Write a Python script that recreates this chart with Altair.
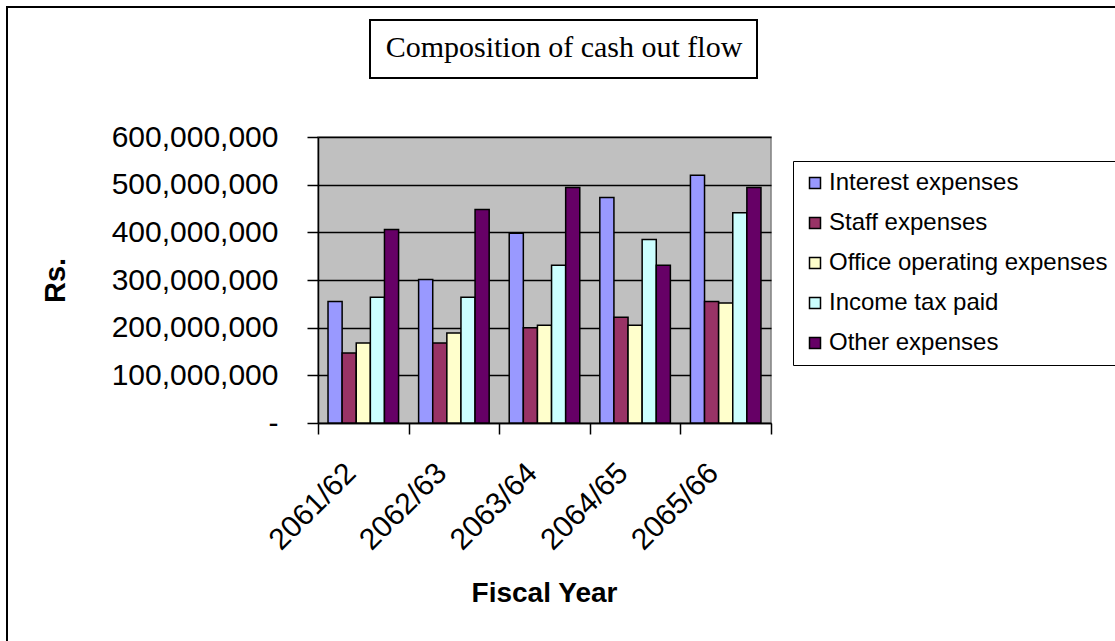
import altair as alt
import pandas as pd

years = ["2061/62", "2062/63", "2063/64", "2064/65", "2065/66"]
series = ["Interest expenses", "Staff expenses", "Office operating expenses",
          "Income tax paid", "Other expenses"]
interest = [255e6, 301e6, 398e6, 473e6, 520e6]
staff = [147e6, 168e6, 200e6, 222e6, 255e6]
office = [168e6, 189e6, 205e6, 205e6, 252e6]
income_tax = [264e6, 264e6, 331e6, 385e6, 441e6]
other = [406e6, 448e6, 494e6, 331e6, 494e6]
colors = ["#9999FF", "#993366", "#FFFFCC", "#CCFFFF", "#660066"]
y_ticks = [0, 100e6, 200e6, 300e6, 400e6, 500e6, 600e6]

rows = []
for s, vals in zip(series, [interest, staff, office, income_tax, other]):
    for y, v in zip(years, vals):
        rows.append({"Fiscal Year": y, "Series": s, "Value": v})
df = pd.DataFrame(rows)

FONT = "Liberation Sans"

bars = alt.Chart(df).mark_bar(stroke="black", strokeWidth=1.5).encode(
    x=alt.X("Fiscal Year:N", sort=years,
            scale=alt.Scale(paddingInner=0, paddingOuter=0),
            axis=alt.Axis(title="Fiscal Year", titleFont=FONT, titleFontSize=28,
                          titleFontWeight="bold", titleColor="black",
                          titleX=226, titleY=170, titleAlign="center", titleBaseline="middle",
                          labelFont=FONT, labelFontSize=30, labelColor="black",
                          labelAngle=315, labelAlign="right", labelBaseline="middle",
                          labelPadding=45, labelOffset=-12, ticks=False,
                          domainColor="black", domainWidth=1.5, grid=False)),
    xOffset=alt.XOffset("Series:N", sort=series,
                        scale=alt.Scale(paddingInner=0, paddingOuter=0.71)),
    y=alt.Y("Value:Q", scale=alt.Scale(domain=[0, 600e6], nice=False),
            axis=alt.Axis(title="Rs.", titleFont=FONT, titleFontSize=29,
                          titleFontWeight="bold", titleColor="black",
                          titleX=-263, titleY=143, titleAngle=270,
                          titleAlign="center", titleBaseline="middle",
                          values=y_ticks, labelFont=FONT, labelFontSize=30,
                          labelColor="black", tickSize=11, tickColor="black",
                          tickWidth=1.5, labelPadding=29, domainColor="black",
                          domainWidth=1.5, grid=True, gridColor="black", gridWidth=1.5,
                          labelExpr="datum.value == 0 ? '-\u00a0\u00a0\u00a0\u00a0' : format(datum.value, ',')")),
    color=alt.Color("Series:N", sort=series,
                    scale=alt.Scale(domain=series, range=colors),
                    legend=alt.Legend(title=None, orient="none", legendX=475, legendY=24,
                                      direction="vertical",
                                      labelFont=FONT, labelFontSize=24, labelColor="black",
                                      symbolType="square", symbolSize=121,
                                      symbolStrokeColor="black", symbolStrokeWidth=1.5,
                                      labelOffset=2, rowPadding=16, padding=10,
                                      strokeColor="black",
                                      fillColor="white", labelLimit=400,
                                      labelExpr="datum.label + '\u00a0\u00a0\u00a0'")),
)

bounds = pd.DataFrame({"b": list(range(len(years) + 1))})
ticks = alt.Chart(bounds).mark_point(opacity=0).encode(
    x=alt.X("b:Q", scale=alt.Scale(domain=[0, len(years)], nice=False, zero=False),
            axis=alt.Axis(orient="bottom", values=list(range(len(years) + 1)),
                          labels=False, title=None, domain=False, grid=False,
                          tickSize=11, tickColor="black", tickWidth=1.5)),
)

one = alt.Data(values=[{}])
frame = alt.Chart(one).mark_rect(fillOpacity=0, stroke="black", strokeWidth=2).encode(
    x=alt.value(-311), x2=alt.value(820), y=alt.value(-130), y2=alt.value(520))
title_box = alt.Chart(one).mark_rect(fill="white", stroke="black", strokeWidth=2).encode(
    x=alt.value(52), x2=alt.value(439), y=alt.value(-117), y2=alt.value(-59))
title_text = alt.Chart(one).mark_text(font="Liberation Serif", fontSize=30, color="black",
                                      align="center", baseline="middle").encode(
    x=alt.value(246), y=alt.value(-89), text=alt.value("Composition of cash out flow"))

chart = alt.layer(frame, title_box, title_text, bars, ticks).resolve_scale(
    x="independent"
).properties(
    width=453, height=286,
    autosize=alt.AutoSizeParams(type="none"),
    padding={"left": 318, "top": 137, "right": 344, "bottom": 218},
    background="white",
).configure_view(fill="#C0C0C0", stroke="#808080", strokeWidth=1.5)

chart.save("out.html", embed_options={"renderer": "svg", "actions": False})
